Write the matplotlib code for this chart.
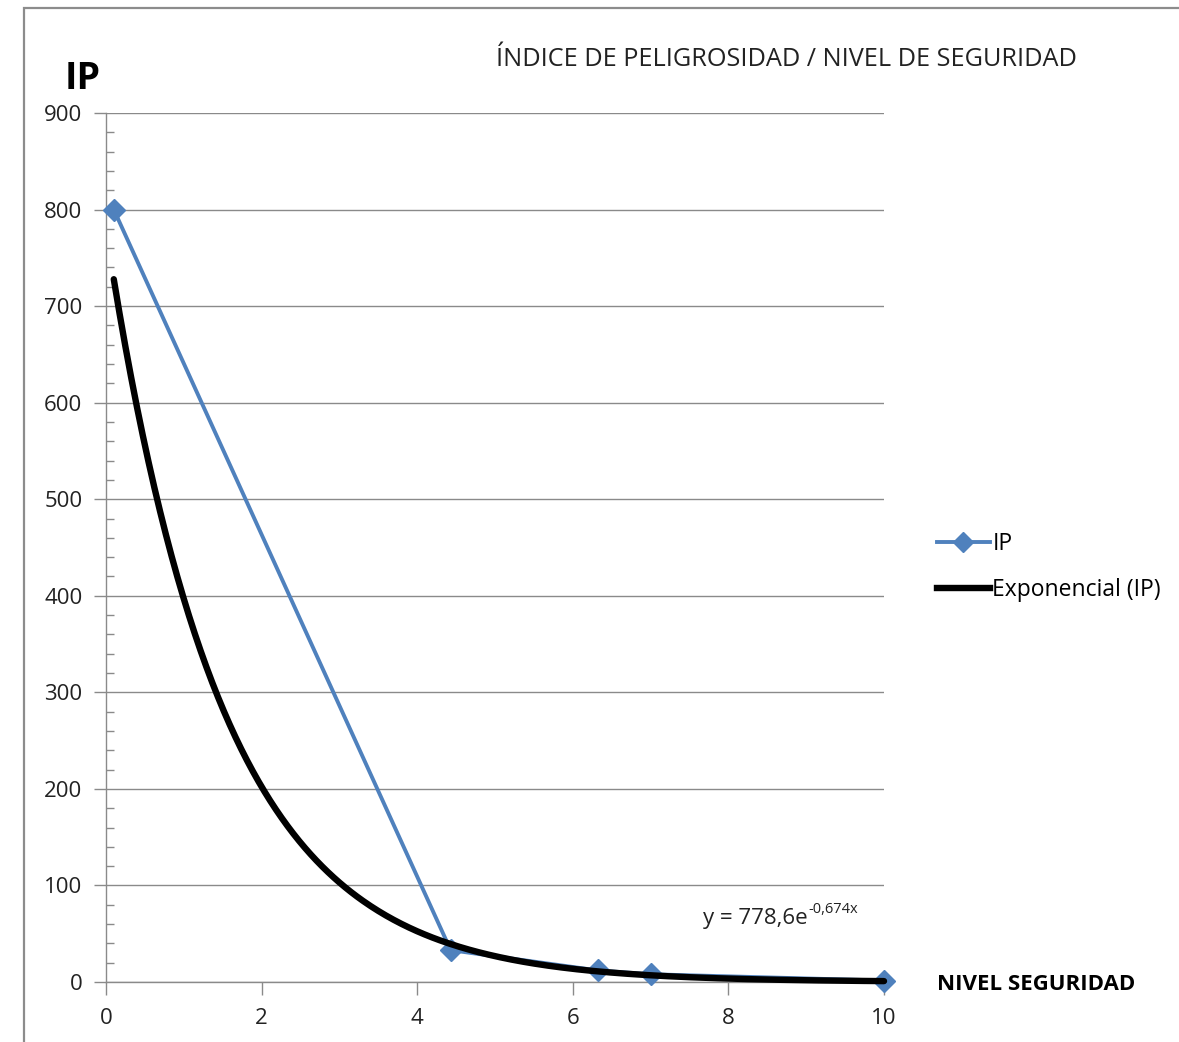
import numpy as np
import matplotlib
matplotlib.use("Agg")
import matplotlib.pyplot as plt
from matplotlib.ticker import MultipleLocator
from matplotlib.lines import Line2D
from matplotlib.patches import Rectangle

# ---- data ----
nivel_seguridad = [0.1, 4.43, 6.32, 7.0, 10.0]
ip_values = [800, 33, 12, 8, 1.5]
trend_a = 778.6
trend_b = -0.674
x_ticks = [0, 2, 4, 6, 8, 10]
y_ticks = [0, 100, 200, 300, 400, 500, 600, 700, 800, 900]

title = "ÍNDICE DE PELIGROSIDAD / NIVEL DE SEGURIDAD"
y_label = "IP"
x_label = "NIVEL SEGURIDAD"
legend_labels = ["IP", "Exponencial (IP)"]
eq_main = "y = 778,6e"
eq_sup = "-0,674x"

plt.rcParams['font.family'] = ['Open Sans', 'DejaVu Sans']

W, H = 1179, 1042
fig = plt.figure(figsize=(W / 100, H / 100), dpi=100)
fig.patch.set_facecolor("white")

# outer chart frame (partially cropped on right/bottom)
fig.add_artist(Rectangle((24 / W, -0.05), 1.2, 1 - 8 / H + 0.05,
                         transform=fig.transFigure, fill=False,
                         edgecolor="#8c8c8c", lw=1.6))

ax = fig.add_axes([106 / W, 1 - 982 / H, (884 - 106) / W, (982 - 113) / H])
ax.set_xlim(0, 10)
ax.set_ylim(0, 900)

grid_c = "#8a8a8a"
txt_c = "#222222"
ax.set_yticks(y_ticks)
ax.set_xticks(x_ticks)
ax.yaxis.set_minor_locator(MultipleLocator(20))
ax.grid(axis="y", which="major", color=grid_c, lw=1.0)
ax.set_axisbelow(True)
for s in ["top", "right"]:
    ax.spines[s].set_visible(False)
for s in ["left", "bottom"]:
    ax.spines[s].set_color(grid_c)
    ax.spines[s].set_linewidth(1.0)
ax.tick_params(axis="y", which="major", direction="out", length=9, width=1,
               color=grid_c, labelsize=16, labelcolor=txt_c, pad=8)
ax.tick_params(axis="y", which="minor", direction="in", length=6, width=1,
               color=grid_c)
ax.tick_params(axis="x", which="major", direction="out", length=9, width=1,
               color=grid_c, labelsize=16, labelcolor=txt_c, pad=10)

# trend line
xt = np.linspace(nivel_seguridad[0], nivel_seguridad[-1], 400)
yt = trend_a * np.exp(trend_b * xt)

blue = "#4F81BD"
ax.plot(nivel_seguridad, ip_values, color=blue, lw=2.8, marker="D",
        markersize=11, markerfacecolor=blue, markeredgecolor=blue,
        clip_on=False, zorder=3)
ax.plot(xt, yt, color="black", lw=4.6, solid_capstyle="round",
        clip_on=False, zorder=4)

# texts
fig.text(786 / W, 1 - 60 / H, title, ha="center", va="center",
         fontsize=18.2, color=txt_c)
fig.text(83 / W, 1 - 79 / H, y_label, ha="center", va="center",
         fontsize=27, fontweight="bold", color="black")
fig.text(937 / W, 1 - 984 / H, x_label, ha="left", va="center",
         fontsize=16, fontweight="bold", color="black")
fig.text(808 / W, 1 - 924 / H, eq_main, ha="right", va="baseline",
         fontsize=16, color=txt_c)
fig.text(808 / W, 1 - 913 / H, eq_sup, ha="left", va="baseline",
         fontsize=10.5, color=txt_c)

handles = [Line2D([], [], color=blue, lw=2.8, marker="D", markersize=10,
                  markerfacecolor=blue, markeredgecolor=blue),
           Line2D([], [], color="black", lw=4.6)]
fig.legend(handles, legend_labels, loc="center left",
           bbox_to_anchor=(937 / W, 1 - 567 / H), frameon=False,
           fontsize=16.5, handlelength=2.3, handletextpad=0.12,
           labelspacing=1.0, borderaxespad=0, borderpad=0)

fig.savefig("out.png", dpi=100)
